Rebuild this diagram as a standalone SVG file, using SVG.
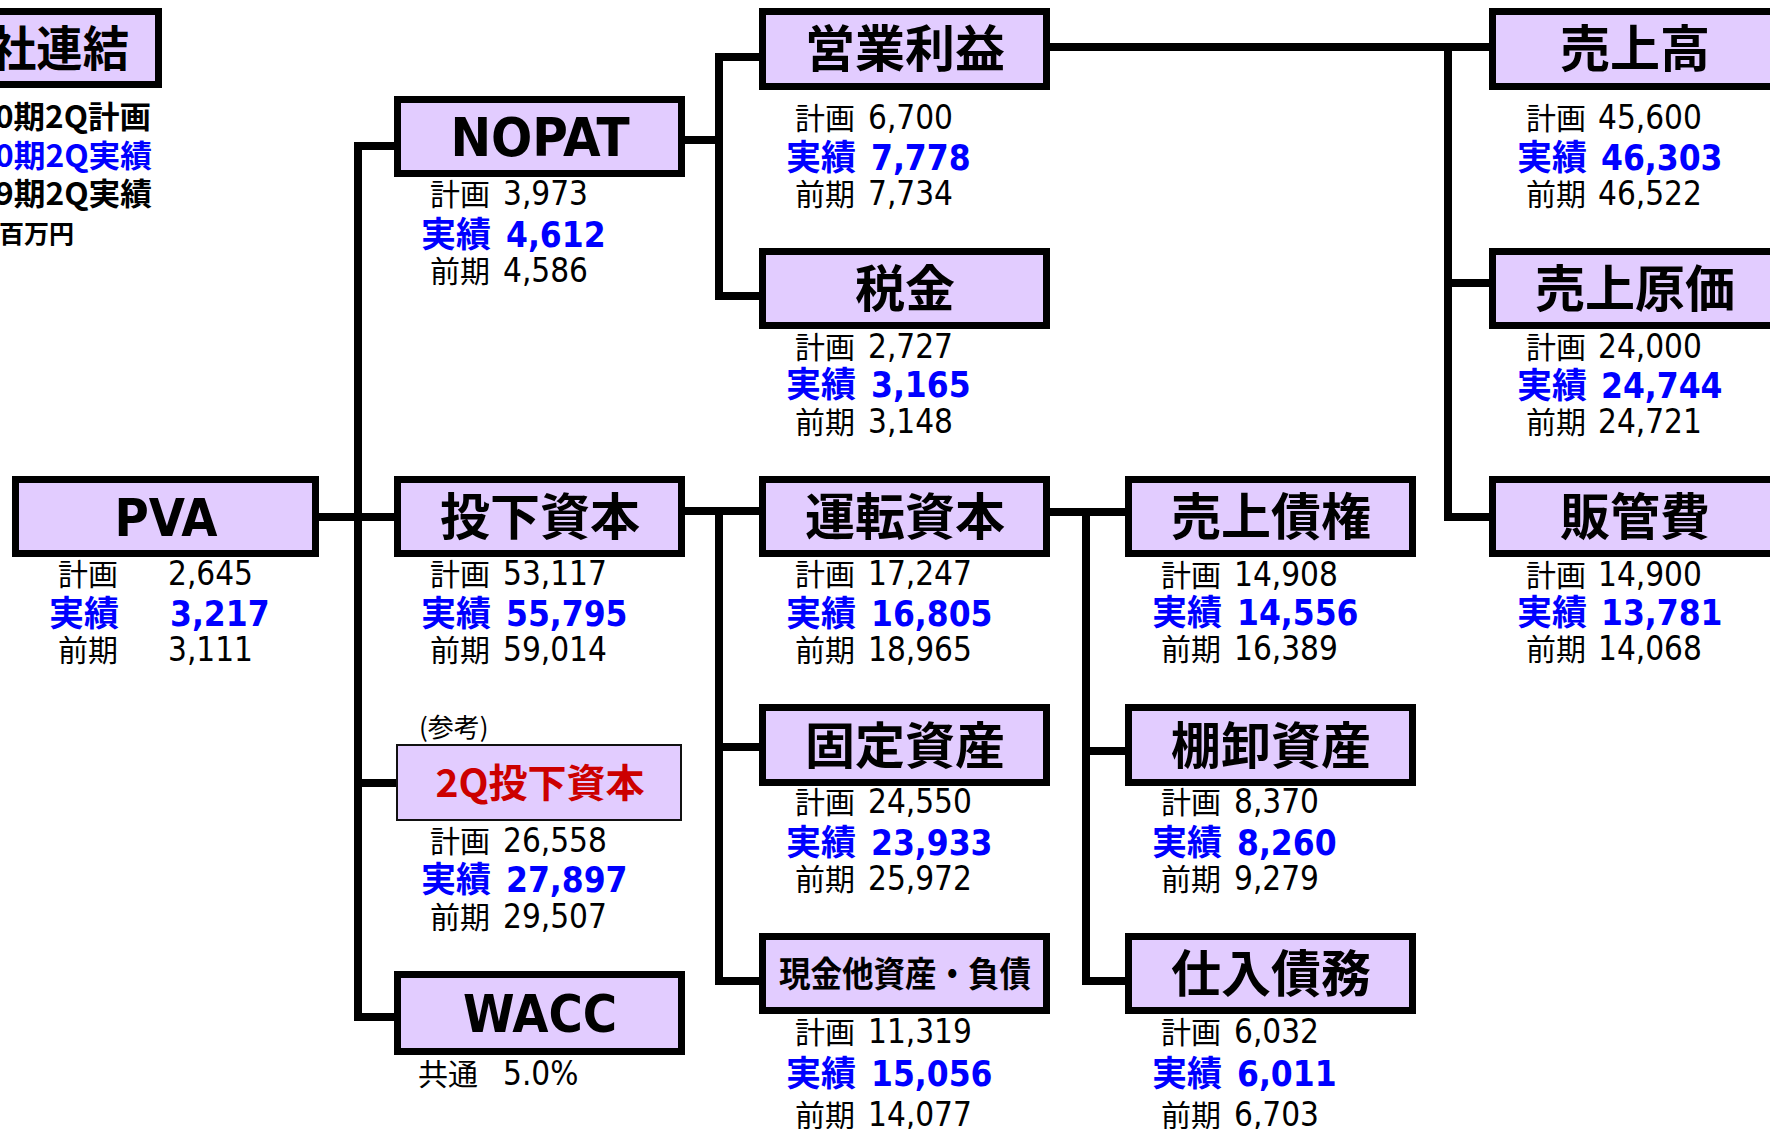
<svg xmlns="http://www.w3.org/2000/svg" width="1770" height="1129" viewBox="0 0 1770 1129">
<style>
.box{fill:#E2CCFF;stroke:#000;stroke-width:7}
.thin{fill:#E2CCFF;stroke:#111;stroke-width:2}
.jt{font-family:"Noto Sans CJK JP",sans-serif;font-weight:bold;font-size:50px;fill:#000;text-anchor:middle}
.lt{font-family:"DejaVu Sans Condensed","DejaVu Sans",sans-serif;font-stretch:condensed;font-weight:bold;font-size:52px;fill:#000;text-anchor:middle}
.lb{font-family:"Noto Sans CJK JP",sans-serif;font-size:30px;fill:#000}
.lbb{font-family:"Noto Sans CJK JP",sans-serif;font-size:35px;font-weight:bold;fill:#0000FF}
.n{font-family:"DejaVu Sans Condensed","DejaVu Sans",sans-serif;font-stretch:condensed;font-size:33px;fill:#000}
.nb{font-family:"DejaVu Sans Condensed","DejaVu Sans",sans-serif;font-stretch:condensed;font-size:35px;font-weight:bold;fill:#0000FF}
.leg{font-family:"Noto Sans CJK JP",sans-serif;font-weight:bold;font-size:31px}
.con{fill:none;stroke:#000;stroke-width:8;stroke-linejoin:miter;stroke-linecap:butt}
</style>

<g id="connectors">
<path class="con" d="M394,146 H358 V1017 H394"/>
<path class="con" d="M319,517 H394"/>
<path class="con" d="M358,783 H396"/>
<path class="con" d="M685,140 H719"/>
<path class="con" d="M759,57 H719 V296 H759"/>
<path class="con" d="M1050,47 H1489"/>
<path class="con" d="M1448,47 V517 H1489"/>
<path class="con" d="M1448,283 H1489"/>
<path class="con" d="M685,511 H759"/>
<path class="con" d="M719,511 V981 H759"/>
<path class="con" d="M719,747 H759"/>
<path class="con" d="M1050,512 H1125"/>
<path class="con" d="M1086,512 V981 H1125"/>
<path class="con" d="M1086,751 H1125"/>
</g>

<g id="title">
<rect class="box" x="-16.5" y="11.5" width="175" height="73"/>
<text class="jt" x="-10" y="66" style="text-anchor:start;font-size:48px" textLength="139" lengthAdjust="spacingAndGlyphs">社連結</text>
</g>

<g id="legend">
<text class="leg" x="-5" y="128" fill="#000" textLength="156" lengthAdjust="spacingAndGlyphs">0期2Q計画</text>
<text class="leg" x="-5" y="167" fill="#0000FF" textLength="157" lengthAdjust="spacingAndGlyphs">0期2Q実績</text>
<text class="leg" x="-5" y="205" fill="#000" textLength="157" lengthAdjust="spacingAndGlyphs">9期2Q実績</text>
<text class="leg" x="-1" y="243" fill="#000" style="font-size:25px">百万円</text>
</g>

<g id="pva">
<rect class="box" x="15.5" y="479.5" width="300" height="74"/>
<text class="lt" x="166" y="536">PVA</text>
<text class="lb" x="58" y="585">計画</text><text class="n" x="168" y="585">2,645</text>
<text class="lbb" x="49" y="626">実績</text><text class="nb" x="170" y="626">3,217</text>
<text class="lb" x="58" y="661">前期</text><text class="n" x="168" y="661">3,111</text>
</g>

<g id="nopat">
<rect class="box" x="397.5" y="99.5" width="284" height="74"/>
<text class="lt" x="540" y="156" style="font-size:54px">NOPAT</text>
<text class="lb" x="430" y="205">計画</text><text class="n" x="503" y="205">3,973</text>
<text class="lbb" x="421" y="247">実績</text><text class="nb" x="506" y="247">4,612</text>
<text class="lb" x="430" y="282">前期</text><text class="n" x="503" y="282">4,586</text>
</g>

<g id="eigyo">
<rect class="box" x="762.5" y="11.5" width="284" height="75"/>
<text class="jt" x="905" y="67">営業利益</text>
<text class="lb" x="795" y="129">計画</text><text class="n" x="868" y="129">6,700</text>
<text class="lbb" x="786" y="170">実績</text><text class="nb" x="871" y="170">7,778</text>
<text class="lb" x="795" y="205">前期</text><text class="n" x="868" y="205">7,734</text>
</g>

<g id="zeikin">
<rect class="box" x="762.5" y="251.5" width="284" height="74"/>
<text class="jt" x="905" y="307">税金</text>
<text class="lb" x="795" y="358">計画</text><text class="n" x="868" y="358">2,727</text>
<text class="lbb" x="786" y="397">実績</text><text class="nb" x="871" y="397">3,165</text>
<text class="lb" x="795" y="433">前期</text><text class="n" x="868" y="433">3,148</text>
</g>

<g id="uriage">
<rect class="box" x="1492.5" y="11.5" width="320" height="75"/>
<text class="jt" x="1635" y="67">売上高</text>
<text class="lb" x="1526" y="129">計画</text><text class="n" x="1598" y="129">45,600</text>
<text class="lbb" x="1517" y="170">実績</text><text class="nb" x="1601" y="170">46,303</text>
<text class="lb" x="1526" y="205">前期</text><text class="n" x="1598" y="205">46,522</text>
</g>

<g id="genka">
<rect class="box" x="1492.5" y="251.5" width="320" height="74"/>
<text class="jt" x="1635" y="307">売上原価</text>
<text class="lb" x="1526" y="358">計画</text><text class="n" x="1598" y="358">24,000</text>
<text class="lbb" x="1517" y="398">実績</text><text class="nb" x="1601" y="398">24,744</text>
<text class="lb" x="1526" y="433">前期</text><text class="n" x="1598" y="433">24,721</text>
</g>

<g id="toka">
<rect class="box" x="397.5" y="479.5" width="284" height="74"/>
<text class="jt" x="540" y="535">投下資本</text>
<text class="lb" x="430" y="585">計画</text><text class="n" x="503" y="585">53,117</text>
<text class="lbb" x="421" y="626">実績</text><text class="nb" x="506" y="626">55,795</text>
<text class="lb" x="430" y="661">前期</text><text class="n" x="503" y="661">59,014</text>
</g>

<g id="unten">
<rect class="box" x="762.5" y="479.5" width="284" height="74"/>
<text class="jt" x="905" y="535">運転資本</text>
<text class="lb" x="795" y="585">計画</text><text class="n" x="868" y="585">17,247</text>
<text class="lbb" x="786" y="626">実績</text><text class="nb" x="871" y="626">16,805</text>
<text class="lb" x="795" y="661">前期</text><text class="n" x="868" y="661">18,965</text>
</g>

<g id="saiken">
<rect class="box" x="1128.5" y="479.5" width="284" height="74"/>
<text class="jt" x="1271" y="535">売上債権</text>
<text class="lb" x="1161" y="586">計画</text><text class="n" x="1234" y="586">14,908</text>
<text class="lbb" x="1152" y="625">実績</text><text class="nb" x="1237" y="625">14,556</text>
<text class="lb" x="1161" y="660">前期</text><text class="n" x="1234" y="660">16,389</text>
</g>

<g id="hankan">
<rect class="box" x="1492.5" y="479.5" width="320" height="74"/>
<text class="jt" x="1635" y="535">販管費</text>
<text class="lb" x="1526" y="586">計画</text><text class="n" x="1598" y="586">14,900</text>
<text class="lbb" x="1517" y="625">実績</text><text class="nb" x="1601" y="625">13,781</text>
<text class="lb" x="1526" y="660">前期</text><text class="n" x="1598" y="660">14,068</text>
</g>

<g id="toka2q">
<text x="419" y="737" style="font-family:'Noto Sans CJK JP',sans-serif;font-size:26px;fill:#000">(参考)</text>
<rect class="thin" x="397" y="745" width="284" height="75"/>
<text class="jt" x="540" y="797" style="font-size:39px;fill:#CC0000">2Q投下資本</text>
<text class="lb" x="430" y="852">計画</text><text class="n" x="503" y="852">26,558</text>
<text class="lbb" x="421" y="892">実績</text><text class="nb" x="506" y="892">27,897</text>
<text class="lb" x="430" y="928">前期</text><text class="n" x="503" y="928">29,507</text>
</g>

<g id="kotei">
<rect class="box" x="762.5" y="707.5" width="284" height="75"/>
<text class="jt" x="905" y="764">固定資産</text>
<text class="lb" x="795" y="813">計画</text><text class="n" x="868" y="813">24,550</text>
<text class="lbb" x="786" y="855">実績</text><text class="nb" x="871" y="855">23,933</text>
<text class="lb" x="795" y="890">前期</text><text class="n" x="868" y="890">25,972</text>
</g>

<g id="tanaoroshi">
<rect class="box" x="1128.5" y="707.5" width="284" height="75"/>
<text class="jt" x="1271" y="764">棚卸資産</text>
<text class="lb" x="1161" y="813">計画</text><text class="n" x="1234" y="813">8,370</text>
<text class="lbb" x="1152" y="855">実績</text><text class="nb" x="1237" y="855">8,260</text>
<text class="lb" x="1161" y="890">前期</text><text class="n" x="1234" y="890">9,279</text>
</g>

<g id="wacc">
<rect class="box" x="397.5" y="974.5" width="284" height="77"/>
<text class="lt" x="540" y="1032">WACC</text>
<text class="lb" x="418" y="1085">共通</text><text class="n" x="503" y="1085">5.0%</text>
</g>

<g id="genkin">
<rect class="box" x="762.5" y="936.5" width="284" height="74"/>
<text class="jt" x="905" y="987" style="font-size:35px" textLength="252" lengthAdjust="spacingAndGlyphs">現金他資産・負債</text>
<text class="lb" x="795" y="1043">計画</text><text class="n" x="868" y="1043">11,319</text>
<text class="lbb" x="786" y="1086">実績</text><text class="nb" x="871" y="1086">15,056</text>
<text class="lb" x="795" y="1126">前期</text><text class="n" x="868" y="1126">14,077</text>
</g>

<g id="shiire">
<rect class="box" x="1128.5" y="936.5" width="284" height="74"/>
<text class="jt" x="1271" y="992">仕入債務</text>
<text class="lb" x="1161" y="1043">計画</text><text class="n" x="1234" y="1043">6,032</text>
<text class="lbb" x="1152" y="1086">実績</text><text class="nb" x="1237" y="1086">6,011</text>
<text class="lb" x="1161" y="1126">前期</text><text class="n" x="1234" y="1126">6,703</text>
</g>
</svg>
